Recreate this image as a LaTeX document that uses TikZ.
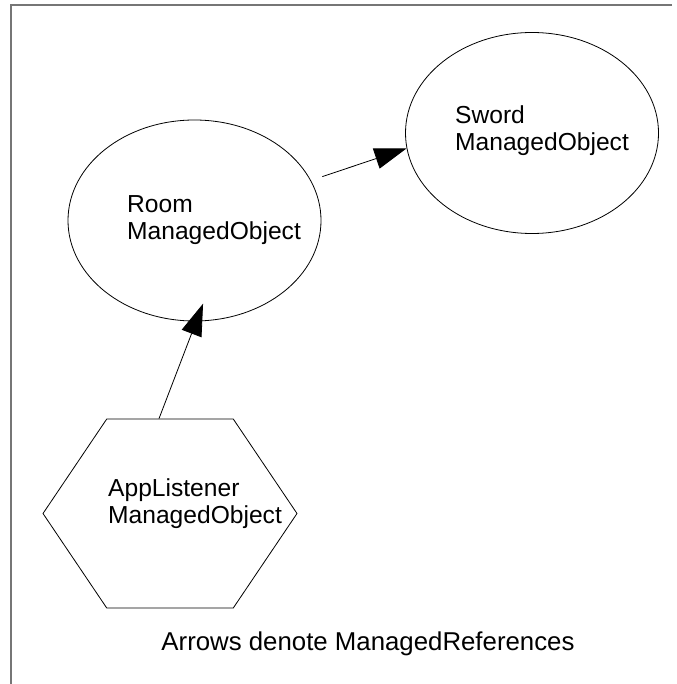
\documentclass[tikz,border=0pt]{standalone}
\usepackage{fontspec}
\setmainfont{Liberation Sans}
\usetikzlibrary{shapes.geometric,shapes.symbols,arrows.meta,positioning}
\definecolor{framegray}{RGB}{118,118,118}

\begin{document}
\begin{tikzpicture}[x=1pt,y=-1pt,
    mobj/.style={draw,line width=0.8pt,ellipse,minimum width=253pt,
      minimum height=201pt,inner sep=0pt},
    listener/.style={draw,line width=0.8pt,signal,signal to=west and east,
      signal pointer angle=112,minimum width=254pt,minimum height=189pt,
      inner sep=0pt},
    objname/.style={font=\fontsize{24.6}{27}\selectfont,align=left,
      inner sep=0pt,anchor=base west},
    mref/.style={line width=0.8pt,-{Triangle[length=32pt,width=21pt]}}]
    \useasboundingbox (0,0) rectangle (676,684);
    \draw[framegray,line width=1.6pt] (672,5) -- (11,5) -- (11,684);

    \node[mobj] (room) at (194.5,220.5) {};
    \node[mobj] (sword) at (532,133) {};
    \node[listener] (app) at (170,513.5) {};

    \node[objname] (roomname) at ([shift={(-67.5,19.5)}]room.center)
      {Room\\ManagedObject};
    \node[objname] (swordname) at ([shift={(-77,17.5)}]sword.center)
      {Sword\\ManagedObject};
    \node[objname] (appname) at ([shift={(-62,9.5)}]app.center)
      {AppListener\\ManagedObject};

    \draw[mref,shorten <=12pt] (room.19) -- (sword.187);
    \draw[mref,shorten >=-19pt] ([xshift=-11pt]app.north) -- (room.-89);

    \node[font=\fontsize{25.8}{27}\selectfont,anchor=base,inner sep=0pt]
      (note) at (368,650) {Arrows denote ManagedReferences};
  \end{tikzpicture}
\end{document}
